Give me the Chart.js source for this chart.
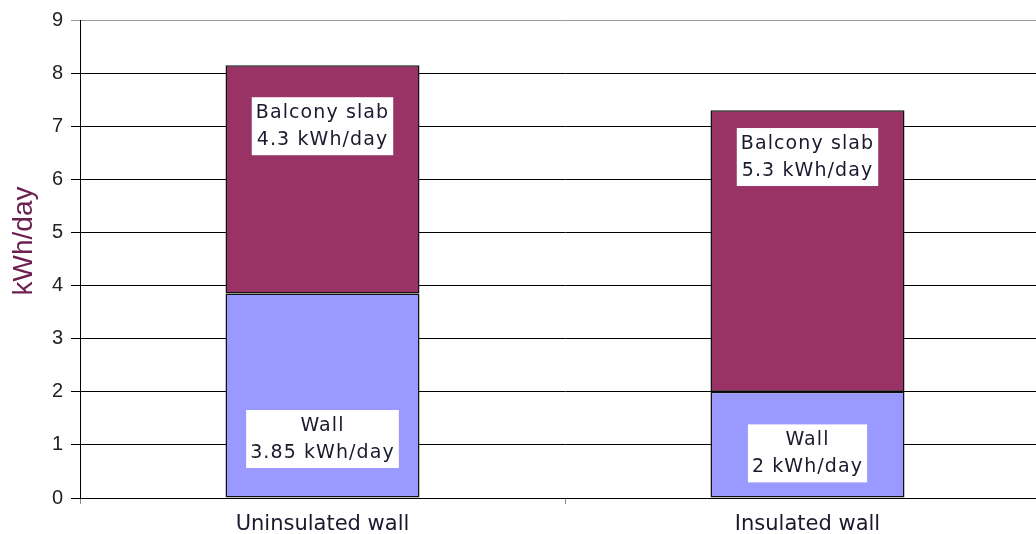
<!DOCTYPE html>
<html>
<head>
<meta charset="utf-8">
<script src="https://cdn.jsdelivr.net/npm/chart.js@4"></script>
<style>
  html, body { margin: 0; padding: 0; background: #fff; overflow: hidden; }
  #wrap { width: 1050px; height: 534px; position: relative; }
</style>
</head>
<body>
<div id="wrap"><canvas id="heatChart"></canvas></div>
<script>
// данные
const categories = ['Uninsulated wall', 'Insulated wall'];
const wallValues = [3.85, 2];
const slabValues = [4.3, 5.3];
const yMax = 9;

// where the label boxes sit (value on the y axis of the box centre)
const wallLabelAt = [1.11, 0.84];
const slabLabelAt = [7.0, 6.42];

const labelFont = '19px "DejaVu Sans", sans-serif';

const boxLabels = {
  id: 'boxLabels',
  afterDatasetsDraw(chart) {
    const c = chart.ctx;
    const y = chart.scales.y;
    c.save();
    c.font = labelFont;
    c.letterSpacing = '1.1px';
    c.textAlign = 'center';
    c.textBaseline = 'middle';
    chart.data.datasets.forEach((ds, di) => {
      const meta = chart.getDatasetMeta(di);
      meta.data.forEach((bar, i) => {
        const lines = [ds.label, ds.data[i] + ' kWh/day'];
        const w = Math.max(...lines.map(t => c.measureText(t).width)) + 8;
        const h = 58;
        const cy = y.getPixelForValue(ds.labelAt[i]);
        c.fillStyle = '#fff';
        c.fillRect(bar.x - w / 2, cy - h / 2, w, h);
        c.fillStyle = '#1a1a2e';
        c.fillText(lines[0], bar.x, cy - 13);
        c.fillText(lines[1], bar.x, cy + 14);
      });
    });
    c.restore();
  }
};

const yTitle = {
  id: 'yTitle',
  afterDraw(chart) {
    const c = chart.ctx;
    c.save();
    c.translate(24, 241);
    c.rotate(-Math.PI / 2);
    c.font = '28px "Liberation Sans", Arial, sans-serif';
    c.fillStyle = '#6b1f4f';
    c.textAlign = 'center';
    c.textBaseline = 'middle';
    c.fillText('kWh/day', 0, 0);
    c.restore();
  }
};

const ctx = document.getElementById('heatChart');
const heatChart = new Chart(ctx, {
  type: 'bar',
  data: {
    labels: categories,
    datasets: [{
      label: 'Wall',
      data: wallValues,
      labelAt: wallLabelAt,
      backgroundColor: '#9999FF',
      borderColor: '#111',
      borderWidth: 1.5,
      borderSkipped: false,
      barPercentage: 0.4,
      categoryPercentage: 1
    }, {
      label: 'Balcony slab',
      data: slabValues,
      labelAt: slabLabelAt,
      backgroundColor: '#993366',
      borderColor: '#111',
      borderWidth: 1.5,
      borderSkipped: false,
      barPercentage: 0.4,
      categoryPercentage: 1
    }]
  },
  options: {
    responsive: true,
    maintainAspectRatio: false,
    animation: false,
    layout: { padding: { top: 20, left: 0, right: 0, bottom: 0 } },
    plugins: {
      legend: { display: false },
      tooltip: { enabled: false }
    },
    scales: {
      x: {
        stacked: true,
        grid: {
          offset: true,
          drawOnChartArea: false,
          tickLength: 6,
          color: '#888'
        },
        border: { color: '#000', width: 1 },
        ticks: {
          color: '#1a1a2e',
          font: { family: '"DejaVu Sans", sans-serif', size: 21 },
          padding: 8
        },
        afterFit(scale) { scale.height = 36; }
      },
      y: {
        stacked: true,
        min: 0,
        max: yMax,
        grid: {
          color: (c) => c.tick && c.tick.value === yMax ? '#999' : '#000',
          lineWidth: 1,
          tickLength: 9
        },
        border: { color: '#000', width: 1 },
        ticks: {
          stepSize: 1,
          color: '#222',
          font: { family: '"Liberation Sans", Arial, sans-serif', size: 20 },
          padding: 8
        },
        afterFit(scale) { scale.width = 80; }
      }
    }
  },
  plugins: [boxLabels, yTitle]
});
</script>
</body>
</html>
